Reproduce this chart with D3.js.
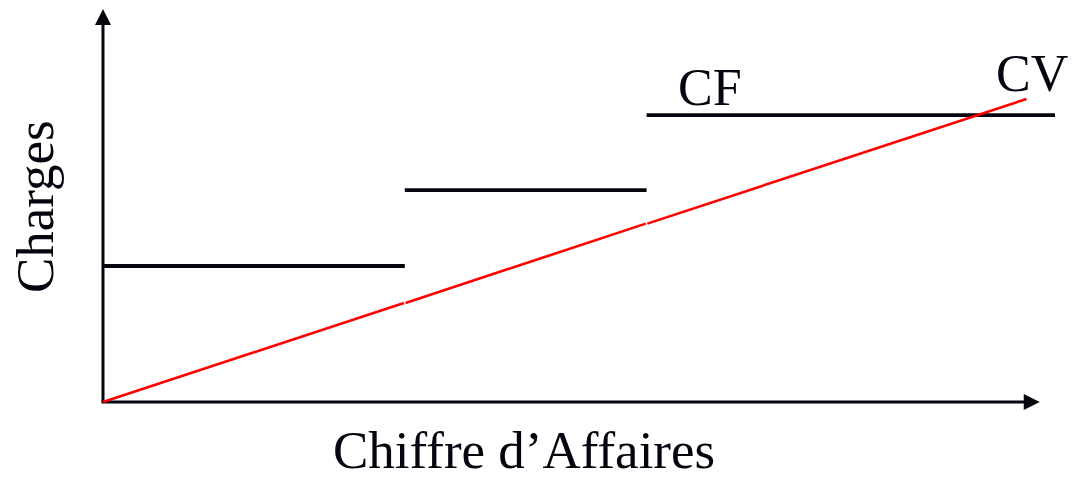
<!DOCTYPE html>
<html><head><meta charset="utf-8">
<script src="https://cdn.jsdelivr.net/npm/d3@7"></script>
<style>html,body{margin:0;padding:0;background:#fff;}svg{display:block;}</style>
</head><body>
<svg id="c" width="1077" height="481"></svg>
<script>
// Data (chiffre d'affaires on x, charges on y, arbitrary units)
const cfBreaks = [0, 31.7, 57.1, 100];   // CF step boundaries (CA)
const cfLevels = [34.6, 53.9, 73.0];     // fixed charges per step
const cvStart = [0, 0];                  // CV line start (CA, charges)
const cvEnd = [97, 77.1];                // CV line end
const axisMax = {x: 98.4, y: 100};
const labels = {x: "Chiffre d\u2019Affaires", y: "Charges", cf: "CF", cv: "CV"};

const svg = d3.select("#c");
const x = d3.scaleLinear().domain([0, 100]).range([103, 1055]);
const y = d3.scaleLinear().domain([0, 100]).range([402, 9]);
const ink = "#05050f";

// axes
svg.append("line").attr("x1", x(0)).attr("y1", y(0)).attr("x2", x(0)).attr("y2", y(axisMax.y) + 14)
  .attr("stroke", ink).attr("stroke-width", 3);
svg.append("line").attr("x1", x(0) - 1.5).attr("y1", y(0)).attr("x2", x(axisMax.x) - 14).attr("y2", y(0))
  .attr("stroke", ink).attr("stroke-width", 3);
// arrowheads
const ty = y(axisMax.y), tx = x(axisMax.x);
svg.append("path").attr("d", `M${x(0)},${ty} L${x(0)-8},${ty+16} L${x(0)+8},${ty+16} Z`).attr("fill", ink);
svg.append("path").attr("d", `M${tx},${y(0)} L${tx-16},${y(0)-8} L${tx-16},${y(0)+8} Z`).attr("fill", ink);

// CF steps
svg.selectAll(".cf").data(cfLevels).enter().append("line")
  .attr("x1", (d, i) => x(cfBreaks[i])).attr("x2", (d, i) => x(cfBreaks[i + 1]))
  .attr("y1", d => y(d)).attr("y2", d => y(d))
  .attr("stroke", ink).attr("stroke-width", 3.8);

// CV line, drawn in pieces matching the CF steps (small breaks at the step boundaries)
const cvAt = v => cvStart[1] + (cvEnd[1] - cvStart[1]) * (v - cvStart[0]) / (cvEnd[0] - cvStart[0]);
const pieces = [];
for (let i = 0; i < cfBreaks.length - 1; i++) {
  const a = Math.max(cfBreaks[i], cvStart[0]), b = Math.min(cfBreaks[i + 1], cvEnd[0]);
  if (b > a) pieces.push([a, b]);
}
svg.selectAll(".cv").data(pieces).enter().append("line")
  .attr("x1", d => x(d[0]) + (d[0] > cvStart[0] ? 0.8 : 0)).attr("y1", d => y(cvAt(d[0])))
  .attr("x2", d => x(d[1]) - (d[1] < cvEnd[0] ? 0.8 : 0)).attr("y2", d => y(cvAt(d[1])))
  .attr("stroke", "#ff0000").attr("stroke-width", 2.6);

const font = "'Liberation Serif','Times New Roman',serif";
svg.append("text").attr("x", 678).attr("y", 105).attr("font-family", font).attr("font-size", 52)
  .attr("fill", ink).text(labels.cf);
svg.append("text").attr("x", 996).attr("y", 91).attr("font-family", font).attr("font-size", 52)
  .attr("fill", ink).text(labels.cv);
svg.append("text").attr("x", 333).attr("y", 468).attr("font-family", font).attr("font-size", 53)
  .attr("fill", ink).text(labels.x);
svg.append("text").attr("transform", "translate(53,293) rotate(-90)").attr("font-family", font).attr("font-size", 53)
  .attr("fill", ink).text(labels.y);
</script>
</body></html>
